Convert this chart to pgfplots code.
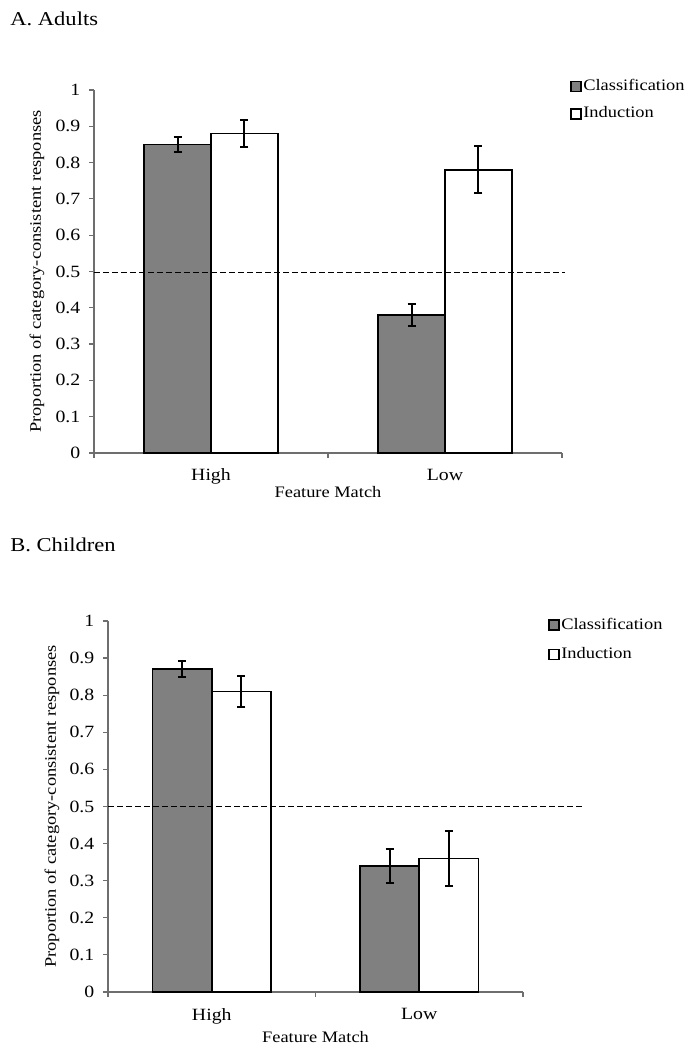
\documentclass[border=0pt]{standalone}
\usepackage{fontspec}
\setmainfont{Liberation Serif}[FakeStretch=1.15]
\usepackage{pgfplots}
\pgfplotsset{compat=1.18}
\definecolor{barg}{RGB}{128,128,128}
\definecolor{axg}{RGB}{110,110,110}
\pgfplotsset{
  panel/.style={
    scale only axis, anchor=south west,
    xmin=-0.5, xmax=1.5, ymin=0, ymax=1,
    axis x line*=bottom, axis y line*=left,
    axis line style={axg, line width=0.6pt},
    tick style={axg, line width=0.6pt},
    tick align=outside,
    major tick length=2.5pt, minor tick length=2.5pt,
    xtick={0,1}, xticklabels={High,Low},
    major x tick style={draw=none},
    minor xtick={-0.5,0.5,1.5},
    ytick={0,0.1,0.2,0.3,0.4,0.5,0.6,0.7,0.8,0.9,1},
    yticklabels={0,0.1,0.2,0.3,0.4,0.5,0.6,0.7,0.8,0.9,1},
    font=\fontsize{8}{9.6}\selectfont,
    ticklabel style={font=\fontsize{8.6}{10}\selectfont},
    yticklabel style={xshift=-0.8pt},
    ylabel={Proportion of category-consistent responses},
    xlabel={Feature Match},
    clip=false,
    legend cell align=left,
    legend style={draw=none, fill=none, inner sep=0pt, anchor=north west,
      nodes={inner sep=0.8pt}, font=\fontsize{8}{9.6}\selectfont},
  },
  barbase/.style={ybar, bar width=0.286, bar shift=0pt, draw=black, line width=0.9pt,
    error bars/.cd, y dir=both, y explicit,
    error bar style={line width=1pt, black},
    error mark options={rotate=90, black, line width=1pt, mark size=2pt},
    /pgfplots/.cd,
  },
  classbar/.style={barbase, fill=barg,
    legend image code/.code={\draw[fill=barg, draw=black, line width=0.7pt] (0pt,-2.5pt) rectangle (5pt,2.5pt);},
  },
  indbar/.style={barbase, fill=white,
    legend image code/.code={\draw[fill=white, draw=black, line width=0.7pt] (0pt,-2.5pt) rectangle (5pt,2.5pt);},
  },
}
\begin{document}
\begin{tikzpicture}
\path[use as bounding box] (0,0) rectangle (349.5pt,525pt);
\node[anchor=west, inner sep=0pt, font=\fontsize{9.8}{11}\selectfont] at (5pt,515.75pt) {A. Adults};
\node[anchor=west, inner sep=0pt, font=\fontsize{9.8}{11}\selectfont] at (5pt,252.75pt) {B. Children};

\begin{axis}[panel, at={(47pt,298.5pt)}, width=234pt, height=181.5pt,
  xticklabel style={yshift=-2pt},
  ylabel style={at={(axis description cs:-0.1218,0.5)}, anchor=center},
  xlabel style={at={(axis description cs:0.5,-0.108)}, anchor=center},
  legend style={at={(axis description cs:1.017,1.035)}, row sep=5pt}]
\addplot[classbar] coordinates {(-0.143,0.85) +- (0,0.021) (0.857,0.38) +- (0,0.03)};
\addlegendentry{Classification}
\addplot[indbar] coordinates {(0.143,0.88) +- (0,0.037) (1.143,0.78) +- (0,0.065)};
\addlegendentry{Induction}
\addplot[black, line width=0.9pt, dash pattern=on 3pt off 1.5pt, forget plot] coordinates {(-0.5,0.497) (1.513,0.497)};
\end{axis}

\begin{axis}[panel, at={(54pt,29pt)}, width=207.5pt, height=185.5pt,
  xticklabel style={yshift=-2pt},
  ylabel style={at={(axis description cs:-0.135,0.5)}, anchor=center},
  xlabel style={at={(axis description cs:0.5,-0.121)}, anchor=center},
  legend style={at={(axis description cs:1.060,1.014)}, row sep=6pt}]
\addplot[classbar] coordinates {(-0.143,0.87) +- (0,0.022) (0.857,0.34) +- (0,0.046)};
\addlegendentry{Classification}
\addplot[indbar] coordinates {(0.143,0.81) +- (0,0.042) (1.143,0.36) +- (0,0.074)};
\addlegendentry{Induction}
\addplot[black, line width=0.9pt, dash pattern=on 3pt off 1.5pt, forget plot] coordinates {(-0.5,0.5) (1.789,0.5)};
\end{axis}
\end{tikzpicture}
\end{document}
